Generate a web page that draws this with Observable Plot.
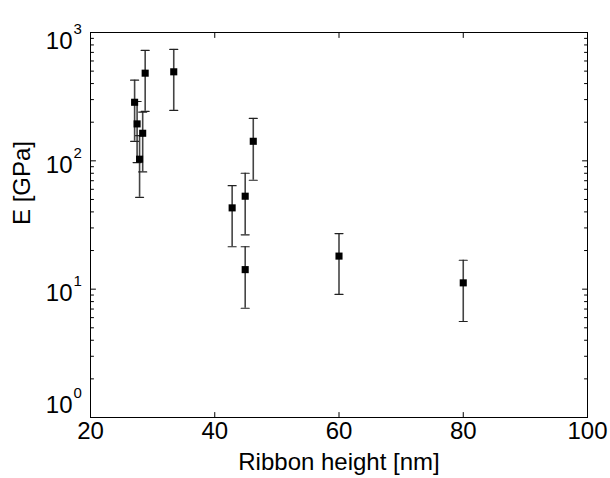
<!DOCTYPE html>
<html>
<head>
<meta charset="utf-8">
<script src="https://cdn.jsdelivr.net/npm/d3@7"></script>
<script src="https://cdn.jsdelivr.net/npm/@observablehq/plot@0.6"></script>
<style>
  html, body { margin: 0; padding: 0; background: white; }
  #chart { width: 610px; height: 478px; }
</style>
</head>
<body>
<div id="chart"></div>
<script>
// Ribbon height [nm]
const heights = [27.1, 27.5, 27.9, 28.4, 28.8, 33.4, 42.8, 44.9, 44.9, 46.2, 60.0, 80.0];
// E [GPa]
const moduli  = [286, 194, 103, 164, 482, 494, 43, 53, 14.2, 142, 18.1, 11.2];
const errLow  = [142, 97, 52, 82, 243, 247, 21.4, 26.5, 7.1, 70.6, 9.1, 5.6];
const errHigh = [425, 290, 157, 240, 725, 738, 64, 80, 21.4, 214, 27.1, 16.8];

const xTicks = [20, 40, 60, 80, 100];
const yMajor = [1, 10, 100, 1000];
const yExponents = ["0", "1", "2", "3"];
const yMinor = [2, 3, 4, 5, 6, 7, 8, 9, 20, 30, 40, 50, 60, 70, 80, 90, 200, 300, 400, 500, 600, 700, 800, 900];

const data = heights.map((h, i) => ({h, e: moduli[i], lo: errLow[i], hi: errHigh[i]}));
const yLabels = yMajor.map((v, i) => ({v, exp: yExponents[i]}));

const line = {draw(context, l) { context.moveTo(0, 0); context.lineTo(0, -l); }};
const tickStyle = {shape: line, anchor: "start", stroke: "black", strokeWidth: 1};

// vertical nudge of each "10^n" label (MATLAB-like placement)
function yLabelMarks(filter, dy) {
  return [
    Plot.text(yLabels, {filter, y: "v", frameAnchor: "left", text: () => "10", textAnchor: "end", dx: -18, dy, fontSize: 24, lineAnchor: "middle"}),
    Plot.text(yLabels, {filter, y: "v", frameAnchor: "left", text: "exp", textAnchor: "start", dx: -17, dy: dy - 12, fontSize: 15, lineAnchor: "middle"})
  ];
}

const chart = Plot.plot({
  width: 610,
  height: 478,
  marginLeft: 90,
  marginRight: 23,
  marginTop: 32,
  marginBottom: 61,
  style: {fontFamily: "'Liberation Sans', Arial, sans-serif", fontSize: "24px", color: "black", background: "white"},
  x: {domain: [20, 100], axis: null},
  y: {type: "log", domain: [1, 1000], axis: null},
  marks: [
    Plot.frame({stroke: "black", strokeWidth: 1}),
    // inward ticks
    Plot.vector(xTicks, {x: d => d, frameAnchor: "bottom", rotate: 0, length: 5, ...tickStyle}),
    Plot.vector(xTicks, {x: d => d, frameAnchor: "top", rotate: 180, length: 5, ...tickStyle}),
    Plot.vector(yMajor, {y: d => d, frameAnchor: "left", rotate: 90, length: 5, ...tickStyle}),
    Plot.vector(yMajor, {y: d => d, frameAnchor: "right", rotate: -90, length: 5, ...tickStyle}),
    Plot.vector(yMinor, {y: d => d, frameAnchor: "left", rotate: 90, length: 3, ...tickStyle}),
    Plot.vector(yMinor, {y: d => d, frameAnchor: "right", rotate: -90, length: 3, ...tickStyle}),
    // x tick labels
    Plot.text(xTicks, {x: d => d, frameAnchor: "bottom", text: d => String(d), dy: 14, fontSize: 24, lineAnchor: "middle"}),
    // y tick labels 10^n
    ...yLabelMarks(d => d.v === 1000, 9),
    ...yLabelMarks(d => d.v === 100 || d.v === 10, 4),
    ...yLabelMarks(d => d.v === 1, -12),
    // axis titles
    Plot.text(["Ribbon height [nm]"], {frameAnchor: "bottom", text: d => d, dy: 45, fontSize: 24, lineAnchor: "middle"}),
    Plot.text(["E [GPa]"], {frameAnchor: "left", text: d => d, dx: -68, rotate: -90, fontSize: 24, lineAnchor: "middle"}),
    // error bars
    Plot.ruleX(data, {x: "h", y1: "lo", y2: "hi", stroke: "#444", strokeWidth: 1.6}),
    Plot.vector(data, {x: "h", y: "hi", rotate: 90, length: 8, anchor: "middle", shape: line, stroke: "#222", strokeWidth: 1.2}),
    Plot.vector(data, {x: "h", y: "lo", rotate: 90, length: 8, anchor: "middle", shape: line, stroke: "#222", strokeWidth: 1.2}),
    // points
    Plot.dot(data, {x: "h", y: "e", symbol: "square", r: 4, fill: "black", stroke: null})
  ]
});
document.getElementById("chart").append(chart);
</script>
</body>
</html>
